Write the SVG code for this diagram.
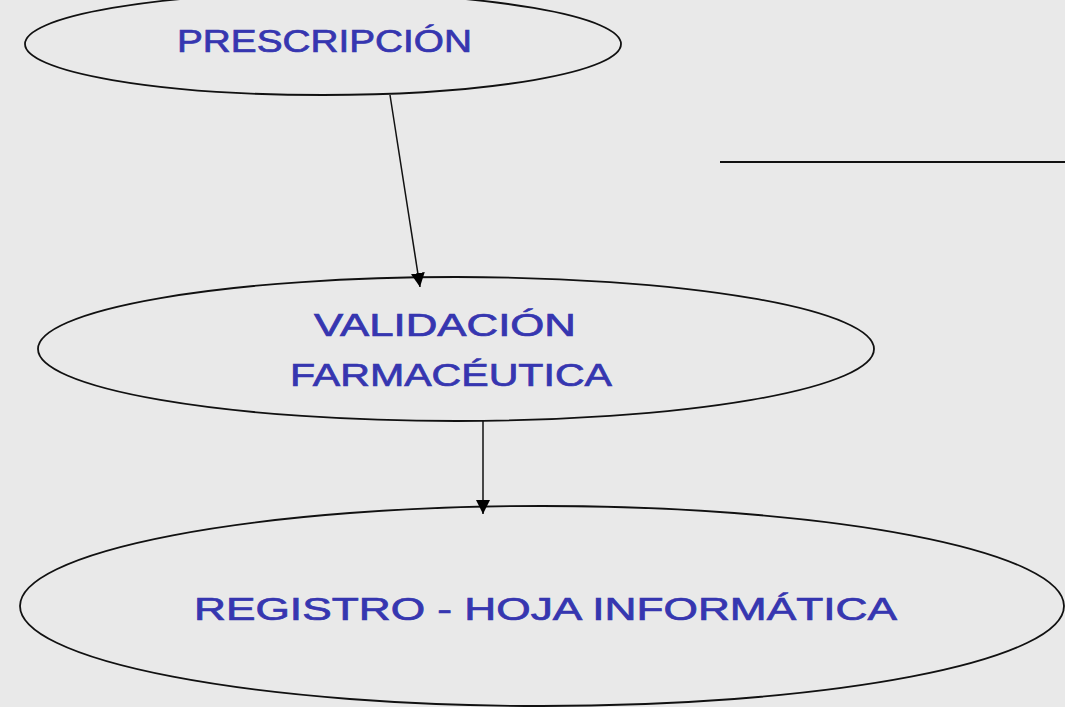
<svg xmlns="http://www.w3.org/2000/svg" width="1065" height="707" viewBox="0 0 1065 707">
<defs>
<style>
.node{fill:none;stroke:#111;stroke-width:1.8}
.lbl{font-family:"Liberation Sans","DejaVu Sans",sans-serif;fill:#3636b0;stroke:#3636b0;stroke-width:0.7;font-size:31px}
.conn{stroke:#111;stroke-width:1.5;fill:none}
</style>
<marker id="arr" viewBox="0 0 10 10" refX="10" refY="5" markerWidth="14" markerHeight="14" markerUnits="userSpaceOnUse" orient="auto">
<path d="M0,0 L10,5 L0,10 Z" fill="#000"/>
</marker>
</defs>
<rect width="1065" height="707" fill="#e9e9e9"/>
<g id="prescripcion">
<ellipse class="node" cx="323" cy="44" rx="298" ry="51"/>
<text class="lbl" x="177" y="52" textLength="295" lengthAdjust="spacingAndGlyphs">PRESCRIPCIÓN</text>
</g>
<g id="validacion">
<ellipse class="node" cx="456" cy="349" rx="418" ry="72"/>
<text class="lbl" x="314" y="336" textLength="262" lengthAdjust="spacingAndGlyphs">VALIDACIÓN</text>
<text class="lbl" x="290" y="386" textLength="322" lengthAdjust="spacingAndGlyphs">FARMACÉUTICA</text>
</g>
<g id="registro">
<ellipse class="node" cx="542" cy="606" rx="522" ry="100"/>
<text class="lbl" x="194" y="620" textLength="703" lengthAdjust="spacingAndGlyphs">REGISTRO - HOJA INFORMÁTICA</text>
</g>
<g id="connectors">
<line class="conn" x1="390" y1="95" x2="420" y2="287" marker-end="url(#arr)"/>
<line class="conn" x1="483" y1="421" x2="483" y2="514" marker-end="url(#arr)"/>
<line x1="720" y1="162" x2="1065" y2="162" stroke="#111" stroke-width="2"/>
</g>
</svg>
